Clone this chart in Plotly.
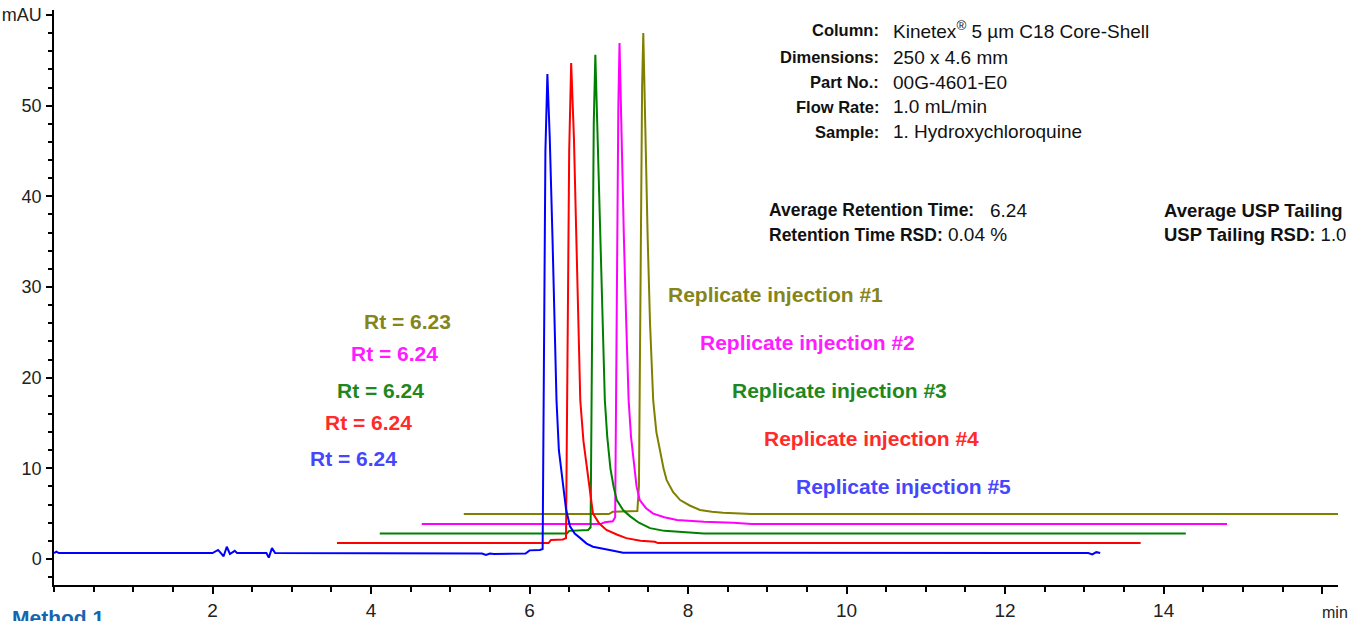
import plotly.graph_objects as go

# ---------------- data ----------------
blue_time = [0.00, 0.03, 0.06, 2.00, 2.07, 2.14, 2.18, 2.22, 2.28, 2.31, 2.68, 2.71, 2.75, 2.79,
             5.40, 5.45, 5.50, 5.55, 5.95, 6.00, 6.13, 6.165, 6.18, 6.20, 6.225, 6.255, 6.29, 6.31,
             6.34, 6.37, 6.42, 6.46, 6.51, 6.57, 6.64, 6.72, 6.80, 6.90, 7.01, 7.18,
             13.05, 13.10, 13.15, 13.20]
blue_mau = [0.65, 0.80, 0.65, 0.65, 1.00, 0.30, 1.35, 0.55, 0.90, 0.65, 0.65, 0.15, 1.20, 0.65,
            0.60, 0.45, 0.60, 0.55, 0.60, 0.95, 1.00, 1.10, 20.0, 45.0, 53.5, 46.4, 35.2, 27.0,
            17.5, 12.0, 8.7, 5.5, 3.6, 2.8, 2.3, 1.7, 1.35, 1.15, 1.0, 0.7,
            0.65, 0.50, 0.75, 0.65]

red_time = [3.57, 6.24, 6.27, 6.42, 6.46, 6.48, 6.50, 6.525, 6.56, 6.59, 6.62, 6.64, 6.68,
            6.72, 6.76, 6.80, 6.88, 6.97, 7.10, 7.22, 7.40, 7.58, 7.62, 13.71]
red_mau = [1.75, 1.75, 2.10, 2.15, 2.30, 20.0, 45.0, 54.7, 46.4, 35.5, 25.0, 17.5, 13.0,
           10.2, 7.2, 5.0, 3.9, 3.2, 2.7, 2.3, 2.0, 1.9, 1.75, 1.75]

green_time = [4.11, 6.47, 6.50, 6.74, 6.77, 6.79, 6.81, 6.83, 6.86, 6.89, 6.92, 6.95, 6.98,
              7.02, 7.06, 7.10, 7.18, 7.27, 7.38, 7.52, 7.70, 7.94, 8.20, 14.28]
green_mau = [2.80, 2.80, 3.10, 3.20, 3.50, 25.0, 48.0, 55.6, 46.4, 35.5, 26.0, 17.5, 13.5,
             10.0, 8.0, 6.5, 5.4, 4.7, 4.0, 3.4, 3.1, 2.95, 2.80, 2.80]

magenta_time = [4.64, 6.89, 6.95, 7.05, 7.08, 7.10, 7.12, 7.135, 7.16, 7.19, 7.22, 7.25, 7.28,
                7.32, 7.35, 7.39, 7.47, 7.56, 7.70, 7.86, 8.20, 8.57, 8.80, 14.80]
magenta_mau = [3.85, 3.85, 4.05, 4.15, 4.60, 30.0, 50.0, 56.9, 46.4, 35.5, 26.0, 17.5, 13.5,
               10.0, 8.0, 6.5, 5.6, 5.0, 4.6, 4.3, 4.1, 4.0, 3.85, 3.85]

olive_time = [5.17, 7.00, 7.05, 7.36, 7.38, 7.40, 7.42, 7.435, 7.46, 7.49, 7.52, 7.56, 7.60,
              7.65, 7.69, 7.73, 7.81, 7.90, 8.02, 8.15, 8.30, 8.44, 8.80, 16.30]
olive_mau = [4.95, 4.95, 5.20, 5.30, 8.0, 35.0, 52.0, 58.0, 46.4, 35.5, 26.0, 17.5, 14.0,
             11.7, 10.0, 8.7, 7.4, 6.5, 5.9, 5.4, 5.2, 5.1, 4.95, 4.95]

rt_labels = ["Rt = 6.23", "Rt = 6.24", "Rt = 6.24", "Rt = 6.24", "Rt = 6.24"]
rep_labels = ["Replicate injection #1", "Replicate injection #2", "Replicate injection #3",
              "Replicate injection #4", "Replicate injection #5"]

info_keys = ["Column:", "Dimensions:", "Part No.:", "Flow Rate:", "Sample:"]
info_vals = ["Kinetex<sup>®</sup> 5 µm C18 Core-Shell", "250 x 4.6 mm", "00G-4601-E0",
             "1.0 mL/min", "1. Hydroxychloroquine"]

stat_keys = ["Average Retention Time:", "Retention Time RSD:"]
stat_vals = ["6.24", "0.04 %"]
tail_texts = ["<b>Average USP Tailing</b>", "<b>USP Tailing RSD:</b> 1.0"]

x_ticks = [2, 4, 6, 8, 10, 12, 14, 16]
x_ticktext = ["2", "4", "6", "8", "10", "12", "14", " "]
y_ticks = [0, 10, 20, 30, 40, 50, 60]
y_ticktext = ["0", "10", "20", "30", "40", "50", "mAU"]

# ---------------- styling ----------------
line_colors = ["#808000", "#ff00ff", "#008000", "#ff0000", "#0000ff"]   # #1..#5
text_colors = ["#85851c", "#ff1cff", "#1e881e", "#ff2a2a", "#4646ff"]
series = [(olive_time, olive_mau), (magenta_time, magenta_mau), (green_time, green_mau),
          (red_time, red_mau), (blue_time, blue_mau)]

FONT = "Liberation Sans, Arial, sans-serif"

fig = go.Figure()
for (t, v), c in zip(series, line_colors):
    fig.add_trace(go.Scatter(x=t, y=v, mode="lines", line=dict(color=c, width=2),
                             hoverinfo="skip", showlegend=False))

# label positions (data coords)
rep_pos = [(7.72, 29.12), (8.125, 23.83), (8.53, 18.53), (8.93, 13.24), (9.335, 7.94)]
rt_pos = [(3.89, 26.14), (3.72, 22.61), (3.55, 18.53), (3.39, 15.0), (3.21, 11.03)]

ann = []
for lab, (x, y), c in zip(rep_labels, rep_pos, text_colors):
    ann.append(dict(x=x, y=y, xref="x", yref="y", text="<b>%s</b>" % lab, showarrow=False,
                    xanchor="left", yanchor="middle", font=dict(size=21, color=c, family=FONT)))
for lab, (x, y), c in zip(rt_labels, rt_pos, text_colors):
    ann.append(dict(x=x, y=y, xref="x", yref="y", text="<b>%s</b>" % lab, showarrow=False,
                    xanchor="left", yanchor="middle", font=dict(size=21, color=c, family=FONT)))

L, R, T, B = 54, 12, 10, 36
W, H = 1350, 621
PW, PH = W - L - R, H - T - B


def px(xp):
    return (xp - L) / PW


def py(yp):
    return (H - B - yp) / PH


info_y = [30, 57, 82, 107, 132]
for k, v, yy in zip(info_keys, info_vals, info_y):
    ann.append(dict(x=px(881), y=py(yy), xref="paper", yref="paper", text="<b>%s</b>" % k,
                    showarrow=False, xanchor="right", yanchor="middle",
                    font=dict(size=16.5, color="#111", family=FONT)))
    ann.append(dict(x=px(891), y=py(yy), xref="paper", yref="paper", text=v,
                    showarrow=False, xanchor="left", yanchor="middle",
                    font=dict(size=19, color="#111", family=FONT)))

stat_y = [210, 235]
stat_val_x = [988, 946]
for k, v, yy, vx in zip(stat_keys, stat_vals, stat_y, stat_val_x):
    ann.append(dict(x=px(767), y=py(yy), xref="paper", yref="paper", text="<b>%s</b>" % k,
                    showarrow=False, xanchor="left", yanchor="middle",
                    font=dict(size=17.5, color="#111", family=FONT)))
    ann.append(dict(x=px(vx), y=py(yy), xref="paper", yref="paper", text=v,
                    showarrow=False, xanchor="left", yanchor="middle",
                    font=dict(size=19, color="#111", family=FONT)))
for txt, yy in zip(tail_texts, stat_y):
    ann.append(dict(x=px(1162), y=py(yy), xref="paper", yref="paper", text=txt,
                    showarrow=False, xanchor="left", yanchor="middle",
                    font=dict(size=18.5, color="#111", family=FONT)))

ann.append(dict(x=px(1335), y=py(612), xref="paper", yref="paper", text="min",
                showarrow=False, xanchor="center", yanchor="middle",
                font=dict(size=16, color="#222", family=FONT)))
ann.append(dict(x=px(10), y=py(604), xref="paper", yref="paper", text="<b>Method 1</b>",
                showarrow=False, xanchor="left", yanchor="top",
                font=dict(size=21, color="#1565b0", family=FONT)))

fig.update_layout(
    width=W, height=H,
    margin=dict(l=L, r=R, t=T, b=B, pad=0, autoexpand=False),
    paper_bgcolor="white", plot_bgcolor="white",
    font=dict(family=FONT, color="#222"),
    annotations=ann,
    showlegend=False,
)
fig.update_xaxes(range=[0, 16.2], showline=True, linecolor="black", linewidth=1.5, automargin=False,
                 showgrid=False, zeroline=False, ticks="outside", ticklen=7, tickwidth=1.5,
                 tickcolor="black", tickmode="array", tickvals=x_ticks, ticktext=x_ticktext,
                 tickfont=dict(size=19, color="#222", family=FONT), ticklabelstandoff=0,
                 minor=dict(ticks="outside", tickmode="linear", tick0=0, dtick=0.5, ticklen=5,
                            tickwidth=1.5, tickcolor="black"))
fig.update_yaxes(range=[-2.87, 60.55], showline=True, linecolor="black", linewidth=1.5, automargin=False,
                 showgrid=False, zeroline=False, ticks="outside", ticklen=6, tickwidth=1.5,
                 tickcolor="black", tickmode="array", tickvals=y_ticks, ticktext=y_ticktext,
                 tickfont=dict(size=18, color="#222", family=FONT), ticklabelstandoff=1,
                 minor=dict(ticks="outside", tickmode="linear", tick0=0, dtick=2, ticklen=4,
                            tickwidth=1.5, tickcolor="black"))

fig.write_html("out.html", config={"displayModeBar": False},
               post_script="document.body.style.margin='0';")
